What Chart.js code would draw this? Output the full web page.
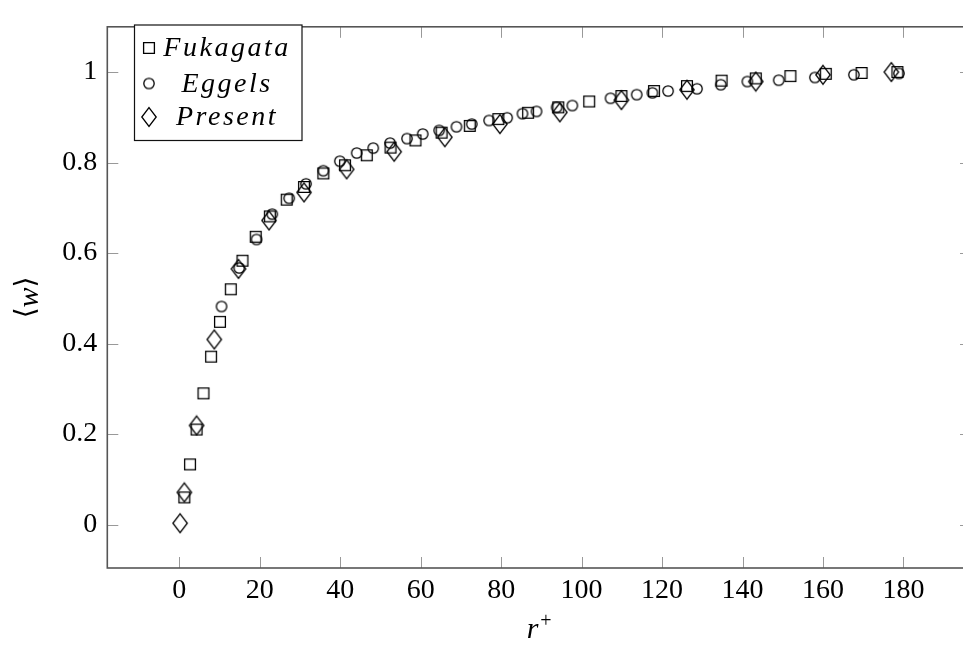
<!DOCTYPE html>
<html>
<head>
<meta charset="utf-8">
<script src="https://cdn.jsdelivr.net/npm/chart.js@4/dist/chart.umd.min.js"></script>
<style>
  html, body { margin: 0; padding: 0; background: #fff; overflow: hidden; }
</style>
</head>
<body>
<canvas id="chart" width="985" height="647"></canvas>
<script>
// values
const fukagataX = [1.25, 2.66, 4.3, 6.0, 7.9, 10.1, 12.8, 15.7, 19.0, 22.5, 26.7, 31.0, 35.8, 41.2, 46.6, 52.5, 58.7, 65.2, 72.2, 79.3, 86.7, 94.2, 101.9, 109.9, 118.0, 126.2, 134.8, 143.3, 151.9, 160.7, 169.6, 178.5];
const fukagataY = [0.060, 0.133, 0.210, 0.290, 0.371, 0.448, 0.520, 0.583, 0.636, 0.681, 0.718, 0.746, 0.776, 0.794, 0.816, 0.833, 0.849, 0.866, 0.881, 0.896, 0.910, 0.922, 0.935, 0.947, 0.958, 0.969, 0.981, 0.986, 0.991, 0.996, 0.998, 1.000];

const eggelsX = [10.5, 14.9, 19.2, 23.1, 27.3, 31.5, 35.8, 39.9, 44.1, 48.2, 52.4, 56.6, 60.5, 64.6, 68.9, 72.7, 77.0, 81.5, 85.3, 88.8, 93.8, 97.7, 107.2, 113.7, 117.6, 121.5, 128.7, 134.6, 141.2, 149.0, 158.0, 167.7, 178.9];
const eggelsY = [0.482, 0.567, 0.630, 0.686, 0.721, 0.753, 0.782, 0.803, 0.821, 0.832, 0.843, 0.853, 0.863, 0.871, 0.879, 0.885, 0.893, 0.899, 0.908, 0.913, 0.922, 0.926, 0.942, 0.950, 0.954, 0.958, 0.963, 0.972, 0.979, 0.982, 0.988, 0.994, 0.997];

const presentX = [0.2, 1.25, 4.3, 8.7, 14.7, 22.3, 31.0, 41.6, 53.4, 66.0, 79.7, 94.6, 109.9, 126.2, 143.3, 160.0, 177.0];
const presentY = [0.003, 0.071, 0.219, 0.409, 0.565, 0.672, 0.734, 0.785, 0.824, 0.856, 0.885, 0.911, 0.938, 0.961, 0.979, 0.994, 1.000];

const seriesNames = ['Fukagata', 'Eggels', 'Present'];
const xTickStep = 20;
const yTickStep = 0.2;

const serif = '"Liberation Serif", "DejaVu Serif", serif';
const ink = '#000';

// open marks drawn once on small canvases, used as point styles
function makeMarker(kind) {
    const c = document.createElement('canvas');
    c.width = 18; c.height = 22;
    const g = c.getContext('2d');
    g.strokeStyle = ink;
    g.lineWidth = 1.3;
    g.beginPath();
    if (kind === 'square') {
        g.rect(3.6, 5.6, 10.8, 10.8);
    } else if (kind === 'circle') {
        g.arc(9, 11, 5.2, 0, Math.PI * 2);
    } else {
        g.moveTo(9, 1.6); g.lineTo(16.2, 11); g.lineTo(9, 20.4); g.lineTo(1.8, 11); g.closePath();
    }
    g.stroke();
    return c;
}
const markers = [makeMarker('square'), makeMarker('circle'), makeMarker('diamond')];

const toPoints = (xs, ys) => xs.map((x, i) => ({ x: x, y: ys[i] }));

// frame, inward ticks, legend box and axis titles
const decorations = {
    id: 'decorations',
    afterDatasetsDraw(chart) {
        const ctx = chart.ctx;
        const a = chart.chartArea;
        const xs = chart.scales.x, ys = chart.scales.y;
        const tl = 11;
        ctx.save();

        ctx.strokeStyle = '#999';
        ctx.lineWidth = 1;
        ctx.beginPath();
        xs.ticks.forEach((t, i) => {
            const px = Math.round(xs.getPixelForTick(i)) + 0.5;
            ctx.moveTo(px, a.bottom); ctx.lineTo(px, a.bottom - tl);
            ctx.moveTo(px, a.top); ctx.lineTo(px, a.top + tl);
        });
        ys.ticks.forEach((t, i) => {
            const py = Math.round(ys.getPixelForTick(i)) + 0.5;
            ctx.moveTo(a.left, py); ctx.lineTo(a.left + tl, py);
            ctx.moveTo(a.right, py); ctx.lineTo(a.right - tl, py);
        });
        ctx.stroke();

        ctx.strokeStyle = '#555';
        ctx.lineWidth = 1.6;
        ctx.strokeRect(a.left, a.top, a.right - a.left, a.bottom - a.top);

        // legend
        const box = { x: 134.5, y: 25, w: 167.5, h: 115.5 };
        ctx.fillStyle = '#fff';
        ctx.fillRect(box.x, box.y, box.w, box.h);
        ctx.strokeStyle = '#111';
        ctx.lineWidth = 1.2;
        ctx.strokeRect(box.x, box.y, box.w, box.h);
        const rowsY = [48, 83.5, 117];
        ctx.font = 'italic 28px ' + serif;
        ctx.letterSpacing = '2.5px';
        ctx.textAlign = 'center';
        ctx.textBaseline = 'alphabetic';
        ctx.fillStyle = '#000';
        seriesNames.forEach((name, i) => {
            const m = markers[i];
            ctx.drawImage(m, 149 - m.width / 2, rowsY[i] - m.height / 2);
            ctx.fillText(name, 227, rowsY[i] + 8);
        });
        ctx.letterSpacing = '0px';

        // x title r^+
        const cx = (a.left + a.right) / 2;
        ctx.textAlign = 'left';
        ctx.font = 'italic 30px ' + serif;
        const rw = ctx.measureText('r').width;
        ctx.font = '20px ' + serif;
        const pw = ctx.measureText('+').width;
        const x0 = cx - (rw + pw + 2) / 2;
        ctx.font = 'italic 30px ' + serif;
        ctx.fillText('r', x0, 638);
        ctx.font = '20px ' + serif;
        ctx.fillText('+', x0 + rw + 2, 627);

        // y title <w>
        ctx.translate(27, (a.top + a.bottom) / 2);
        ctx.rotate(-Math.PI / 2);
        ctx.textBaseline = 'middle';
        const br = '28px "DejaVu Serif", serif';
        const wf = 'italic 30px ' + serif;
        ctx.font = br; const lw = ctx.measureText('\u27E8').width;
        ctx.font = wf; const ww = ctx.measureText('w').width;
        let sx = -(2 * lw + ww) / 2;
        ctx.font = br; ctx.fillText('\u27E8', sx, 0);
        ctx.font = wf; ctx.fillText('w', sx + lw, 3);
        ctx.font = br; ctx.fillText('\u27E9', sx + lw + ww, 0);

        ctx.restore();
    }
};

const tickFont = { family: serif, size: 28 };

new Chart(document.getElementById('chart'), {
    type: 'scatter',
    data: {
        datasets: [
            { label: seriesNames[0], data: toPoints(fukagataX, fukagataY), pointStyle: markers[0] },
            { label: seriesNames[1], data: toPoints(eggelsX, eggelsY), pointStyle: markers[1] },
            { label: seriesNames[2], data: toPoints(presentX, presentY), pointStyle: markers[2] }
        ]
    },
    options: {
        responsive: false,
        animation: false,
        layout: { padding: { top: 7, right: 14, left: 0, bottom: 0 } },
        plugins: { legend: { display: false }, tooltip: { enabled: false } },
        scales: {
            x: {
                type: 'linear',
                min: -17.9,
                max: 196.8,
                grid: { display: false, drawTicks: false },
                border: { display: false },
                ticks: { stepSize: xTickStep, includeBounds: false, font: tickFont, color: '#000', padding: 6, maxRotation: 0 },
                afterFit: s => { s.height = 79; }
            },
            y: {
                type: 'linear',
                min: -0.096,
                max: 1.1,
                grid: { display: false, drawTicks: false },
                border: { display: false },
                ticks: {
                    stepSize: yTickStep, includeBounds: false, font: tickFont, color: '#000', padding: 10,
                    callback: v => String(Number(v.toFixed(1)))
                },
                afterFit: s => { s.width = 107.3; }
            }
        }
    },
    plugins: [decorations]
});
</script>
</body>
</html>
